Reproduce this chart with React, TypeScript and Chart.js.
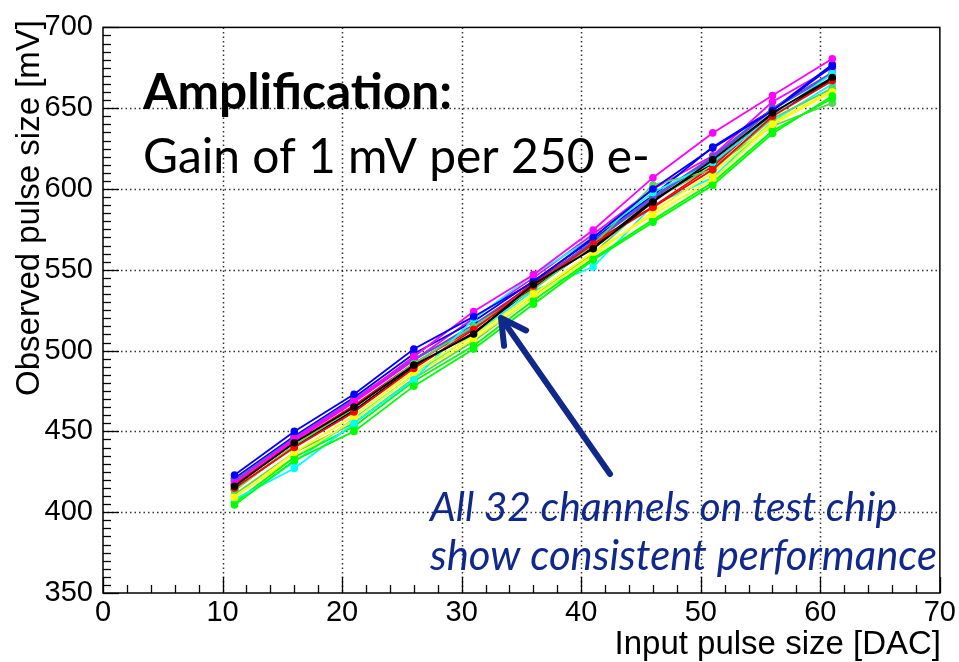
import React, { useEffect, useRef } from 'react';
import { Chart, registerables } from 'chart.js';

Chart.register(...registerables);

// ---- data ----
const dacValues = [11, 16, 21, 26, 31, 36, 41, 46, 51, 56, 61];
const xTickValues = [0, 10, 20, 30, 40, 50, 60, 70];
const yTickValues = [350, 400, 450, 500, 550, 600, 650, 700];

const ch01 = [416, 443, 465, 491, 510.3, 541, 563, 592, 618, 647, 669];
const ch02 = [415, 440, 462, 489, 513, 540, 566, 588.6, 612, 645, 667];
const ch03 = [404.5, 432, 450, 478, 501, 528.7, 556, 579.5, 602.3, 634.3, 657.6];
const ch04 = [423, 450, 473, 501, 521, 542.4, 570, 600, 625.3, 648.4, 676];
const ch05 = [409, 437, 459.7, 487.3, 509, 535, 560.9, 584.1, 606, 640, 660];
const ch06 = [418, 445.6, 468.9, 496.4, 524.2, 547, 574.6, 607, 634.7, 657.8, 680.6];
const ch07 = [408, 427, 455, 482, 519.5, 547, 570, 597.8, 616.2, 645, 671.4];
const ch08 = [413.4, 441.4, 464.4, 492, 515, 537.8, 565.4, 602.5, 611.7, 643.7, 662.3];
const ch09 = [420, 446, 470, 495, 514, 540, 568, 595, 620, 650, 672];
const ch10 = [414, 441, 463, 490, 511, 539, 564, 593, 616, 646, 668];
const ch11 = [417, 443, 466, 492, 514, 542, 567, 589, 614, 647, 668];
const ch12 = [406, 434, 453, 481, 503, 531, 557, 581, 604, 636, 656];
const ch13 = [421, 447, 471, 498, 518, 543, 569, 596, 626, 649, 677];
const ch14 = [410, 434, 457, 485, 507, 533, 559, 586, 610, 641, 661];
const ch15 = [417, 444, 468, 494, 520, 545, 572, 600, 620.6, 654, 675];
const ch16 = [406, 431, 458, 485, 510, 537, 551.7, 590, 607, 642, 665];
const ch17 = [411, 437, 455.2, 482.8, 505.8, 533.4, 560, 593.1, 614, 639, 653.1];
const ch18 = [419, 445, 469, 494, 516, 541, 567, 594, 619, 649, 671];

const channels = [ch01, ch02, ch03, ch04, ch05, ch06, ch07, ch08, ch09, ch10, ch11, ch12, ch13, ch14, ch15, ch16, ch17, ch18];
const channelColors = ['#000000', '#ff0000', '#00ff00', '#0000ff', '#ffff00', '#ff00ff', '#00ffff', '#59d454', '#5954d8'];

const xTitle = 'Input pulse size [DAC]';
const yTitle = 'Observed pulse size [mV]';
const headline = 'Amplification:';
const subline = 'Gain of 1 mV per 250 e-';
const note1 = 'All 32 channels on test chip';
const note2 = 'show consistent performance';

const NAVY = '#10288c';
const AXIS_FONT = '"Liberation Sans", Arial, sans-serif';
const TEXT_FONT = 'Lato, "Open Sans", sans-serif';

function fitFont(ctx: CanvasRenderingContext2D, text: string, style: string, weight: string, family: string, width: number) {
  ctx.font = `${style} ${weight} 100px ${family}`;
  const w = ctx.measureText(text).width;
  const size = (100 * width) / w;
  return `${style} ${weight} ${size.toFixed(2)}px ${family}`;
}

const framePlugin = {
  id: 'rootFrame',
  beforeDatasetsDraw(chart: any) {
    const { ctx, chartArea: a, scales } = chart;
    ctx.save();
    ctx.strokeStyle = '#333';
    ctx.lineWidth = 1.5;
    ctx.setLineDash([1.5, 3]);
    for (const v of xTickValues) {
      if (v <= 0 || v >= 70) continue;
      const px = Math.round(scales.x.getPixelForValue(v)) + 0.5;
      ctx.beginPath();
      ctx.moveTo(px, a.top);
      ctx.lineTo(px, a.bottom);
      ctx.stroke();
    }
    for (const v of yTickValues) {
      if (v <= 350 || v >= 700) continue;
      const py = Math.round(scales.y.getPixelForValue(v)) + 0.5;
      ctx.beginPath();
      ctx.moveTo(a.left, py);
      ctx.lineTo(a.right, py);
      ctx.stroke();
    }
    ctx.restore();
  },
  afterDatasetsDraw(chart: any) {
    const { ctx, chartArea: a, scales } = chart;
    ctx.save();
    ctx.strokeStyle = '#000';
    ctx.lineWidth = 1.5;
    ctx.setLineDash([]);
    ctx.strokeRect(a.left, a.top, a.right - a.left, a.bottom - a.top);
    ctx.lineWidth = 1.3;
    for (let v = 0; v <= 70; v += 2) {
      const px = Math.round(scales.x.getPixelForValue(v)) + 0.5;
      const len = v % 10 === 0 ? 16 : 8;
      ctx.beginPath();
      ctx.moveTo(px, a.bottom);
      ctx.lineTo(px, a.bottom - len);
      ctx.stroke();
    }
    for (let v = 350; v <= 700; v += 5) {
      const py = Math.round(scales.y.getPixelForValue(v)) + 0.5;
      const len = v % 50 === 0 ? 16 : 8;
      ctx.beginPath();
      ctx.moveTo(a.left, py);
      ctx.lineTo(a.left + len, py);
      ctx.stroke();
    }
    ctx.restore();
  },
  afterDraw(chart: any) {
    const { ctx } = chart;
    ctx.save();
    // axis titles
    ctx.fillStyle = '#000';
    ctx.font = `33px ${AXIS_FONT}`;
    ctx.textAlign = 'right';
    ctx.textBaseline = 'alphabetic';
    ctx.fillText(xTitle, 941, 654);
    ctx.save();
    ctx.translate(39, 20);
    ctx.rotate(-Math.PI / 2);
    ctx.textAlign = 'right';
    ctx.fillText(yTitle, 0, 0);
    ctx.restore();

    // headline texts
    ctx.textAlign = 'left';
    ctx.font = fitFont(ctx, headline, 'normal', 'bold', TEXT_FONT, 309);
    ctx.fillText(headline, 143, 109);
    ctx.font = fitFont(ctx, subline, 'normal', 'normal', TEXT_FONT, 507);
    ctx.fillText(subline, 143, 173);

    // annotation
    ctx.fillStyle = NAVY;
    ctx.font = fitFont(ctx, note1, 'italic', 'normal', TEXT_FONT, 467);
    ctx.fillText(note1, 430, 521);
    ctx.font = fitFont(ctx, note2, 'italic', 'normal', TEXT_FONT, 507);
    ctx.fillText(note2, 430, 570);

    // arrow
    ctx.strokeStyle = NAVY;
    ctx.lineWidth = 6;
    ctx.lineCap = 'round';
    ctx.lineJoin = 'round';
    const x0 = 610, y0 = 474, x1 = 501, y1 = 318;
    ctx.beginPath();
    ctx.moveTo(x0, y0);
    ctx.lineTo(x1 + 3, y1 + 4);
    ctx.stroke();
    const ang = Math.atan2(y0 - y1, x0 - x1);
    const hl = 28, spread = 0.5;
    ctx.beginPath();
    ctx.moveTo(x1 + hl * Math.cos(ang - spread), y1 + hl * Math.sin(ang - spread));
    ctx.lineTo(x1, y1);
    ctx.lineTo(x1 + hl * Math.cos(ang + spread), y1 + hl * Math.sin(ang + spread));
    ctx.stroke();
    ctx.restore();
  },
};

export default function App() {
  const canvasRef = useRef<HTMLCanvasElement | null>(null);

  useEffect(() => {
    if (!canvasRef.current) return;
    const datasets = channels.map((vals, i) => {
      const c = channelColors[i % channelColors.length];
      return {
        label: `ch${i + 1}`,
        data: dacValues.map((x, j) => ({ x, y: vals[j] })),
        borderColor: c,
        backgroundColor: c,
        borderWidth: 1.8,
        pointRadius: 3.8,
        pointBorderWidth: 0,
        pointHoverRadius: 3.8,
        tension: 0,
        fill: false,
      };
    });
    const chart = new Chart(canvasRef.current, {
      type: 'line',
      data: { datasets },
      options: {
        animation: false,
        responsive: true,
        maintainAspectRatio: false,
        layout: { padding: { left: 8, top: 20, right: 16, bottom: 0 } },
        plugins: { legend: { display: false }, tooltip: { enabled: false } },
        scales: {
          x: {
            type: 'linear',
            min: 0,
            max: 70,
            afterBuildTicks: (s: any) => { s.ticks = xTickValues.map((v) => ({ value: v })); },
            afterFit: (s: any) => { s.height = 69; },
            ticks: { color: '#000', font: { family: AXIS_FONT, size: 29 }, padding: 3, maxRotation: 0, autoSkip: false },
            grid: { display: false, drawTicks: false },
            border: { display: false },
          },
          y: {
            type: 'linear',
            min: 350,
            max: 700,
            afterBuildTicks: (s: any) => { s.ticks = yTickValues.map((v) => ({ value: v })); },
            afterFit: (s: any) => { s.width = 95; },
            ticks: { color: '#000', font: { family: AXIS_FONT, size: 29 }, padding: 10, autoSkip: false },
            grid: { display: false, drawTicks: false },
            border: { display: false },
          },
        },
      },
      plugins: [framePlugin],
    });
    return () => chart.destroy();
  }, []);

  return (
    <div style={{ position: 'absolute', left: 0, top: 0, width: 959, height: 662, background: '#fff' }}>
      <canvas ref={canvasRef} />
    </div>
  );
}
